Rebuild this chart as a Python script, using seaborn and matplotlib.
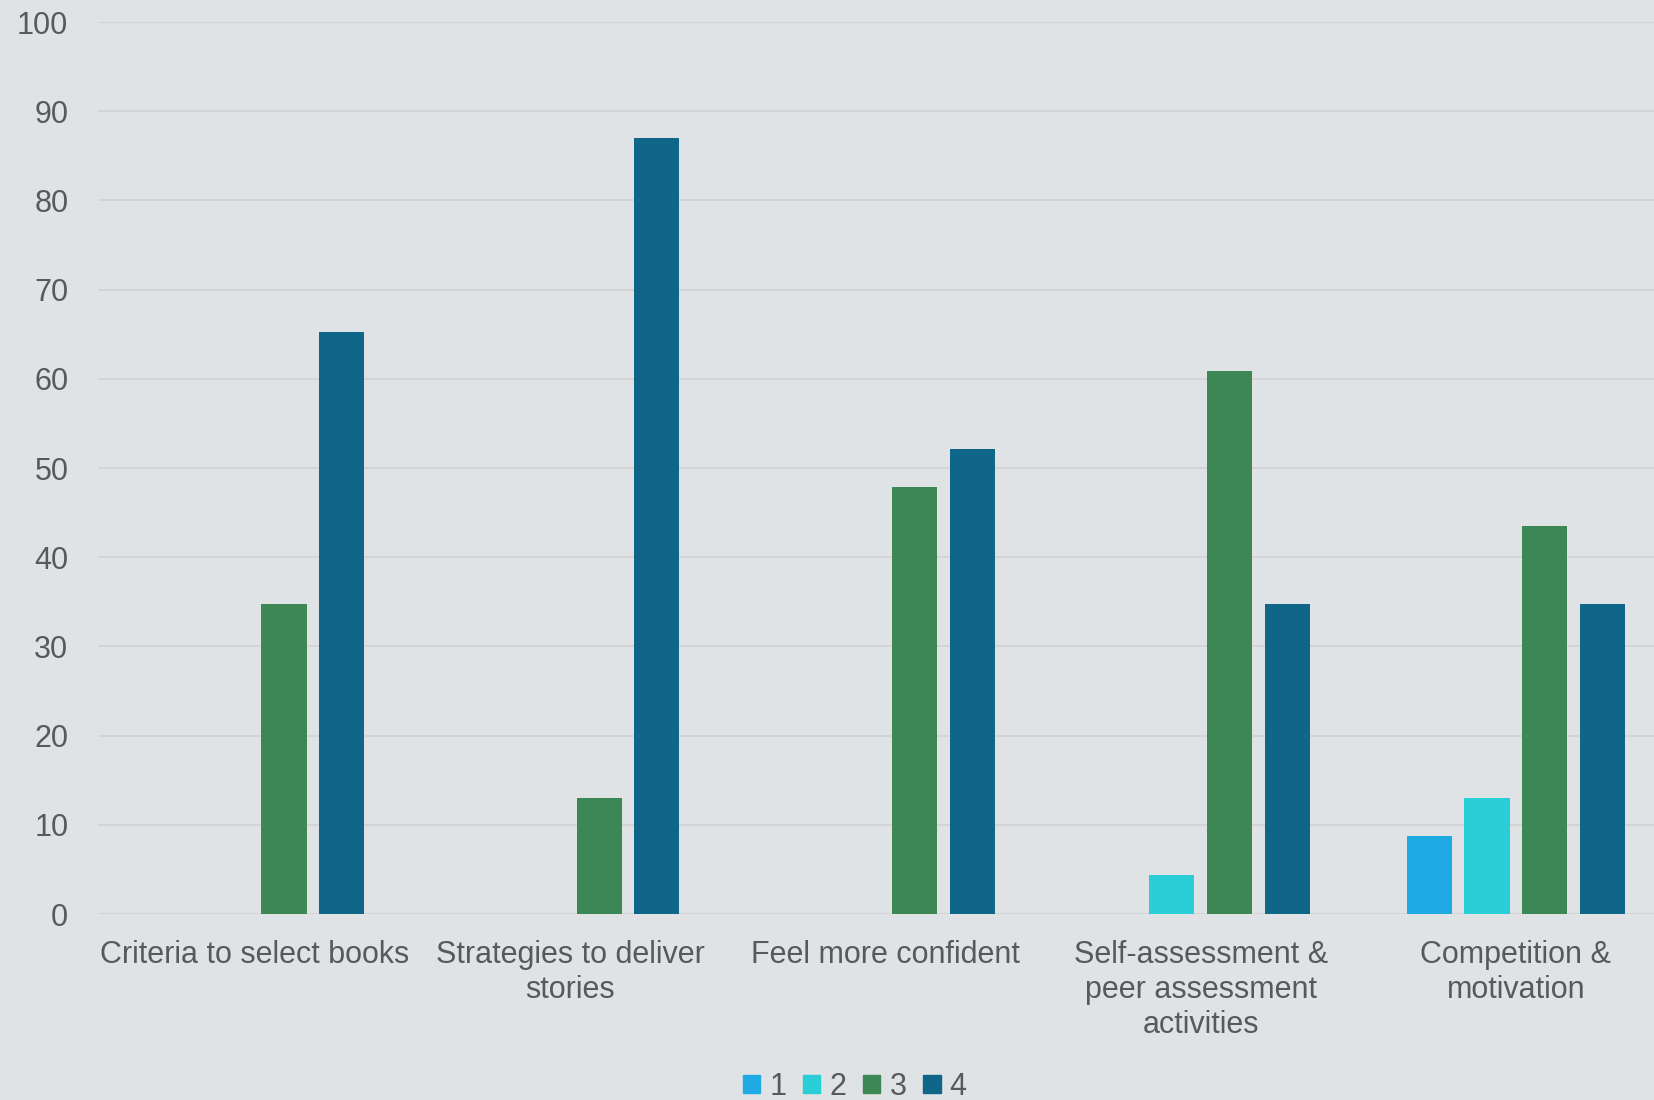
import matplotlib
matplotlib.use("Agg")
import matplotlib.pyplot as plt
import seaborn as sns
import pandas as pd

categories = ["Criteria to select books", "Strategies to deliver\nstories", "Feel more confident",
              "Self-assessment &\npeer assessment\nactivities", "Competition &\nmotivation"]
series_names = ["1", "2", "3", "4"]
s1 = [0, 0, 0, 0, 8.70]
s2 = [0, 0, 0, 4.35, 13.04]
s3 = [34.78, 13.04, 47.83, 60.87, 43.48]
s4 = [65.22, 86.96, 52.17, 34.78, 34.78]
colors = ["#1EABE3", "#29CED6", "#3D8754", "#0F6688"]
yticks = [0, 10, 20, 30, 40, 50, 60, 70, 80, 90, 100]

rows = []
for name, vals in zip(series_names, [s1, s2, s3, s4]):
    for c, v in zip(categories, vals):
        rows.append({"category": c, "series": name, "value": v})
df = pd.DataFrame(rows)

sns.set_theme(style="white")
plt.rcParams["font.family"] = ["Liberation Sans", "DejaVu Sans"]
bg = "#DFE3E6"
txt = "#595959"

fig = plt.figure(figsize=(16.54, 11.0), dpi=100, facecolor=bg)
ax = fig.add_axes([97.5 / 1654, 1 - 914 / 1100, 1576 / 1654, (914 - 22) / 1100])
ax.set_facecolor(bg)

sns.barplot(data=df, x="category", y="value", hue="series", order=categories,
            hue_order=series_names, palette=colors, width=0.733, gap=0.22,
            linewidth=0, errorbar=None, ax=ax, zorder=3, saturation=1)

ax.set_ylim(0, 100)
ax.set_xlim(-0.5, 4.5)
ax.set_yticks(yticks)
ax.set_yticklabels([str(t) for t in yticks])
ax.grid(axis="y", color="#D2D4D6", linewidth=1.4, zorder=0)
ax.set_axisbelow(True)
for s in ax.spines.values():
    s.set_visible(False)
ax.tick_params(axis="y", length=0, pad=21, labelsize=22, labelcolor=txt)
ax.tick_params(axis="x", length=0, pad=19, labelsize=22, labelcolor=txt)
ax.set_xlabel("")
ax.set_ylabel("")

ax.get_legend().remove()
handles = [plt.Rectangle((0, 0), 1, 1, color=c) for c in colors]
leg = fig.legend(handles, series_names, loc="center", bbox_to_anchor=(855 / 1654, 0.012),
                 ncol=4, frameon=False, fontsize=22, handlelength=0.56, handleheight=0.56,
                 handletextpad=0.3, columnspacing=0.55, borderpad=0, borderaxespad=0)
for t in leg.get_texts():
    t.set_color(txt)

fig.savefig("out.png", dpi=100, facecolor=bg)
